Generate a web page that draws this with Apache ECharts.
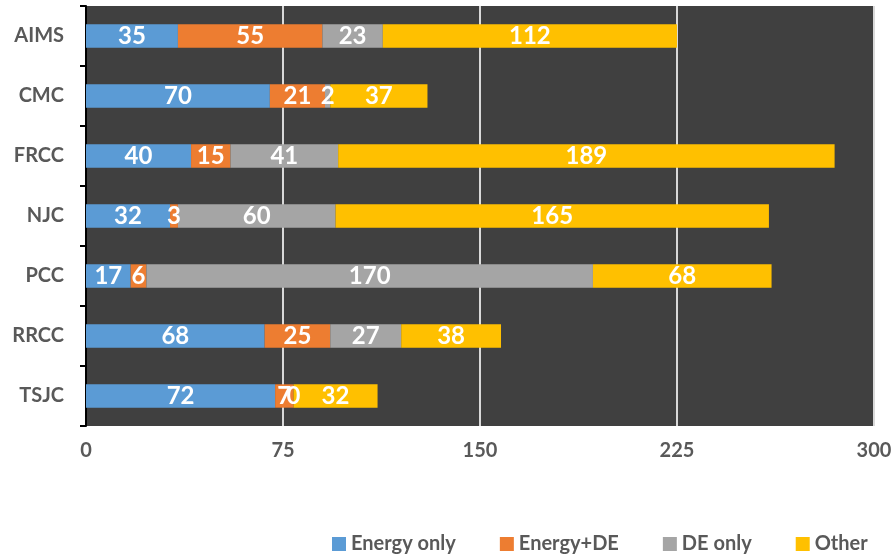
<!DOCTYPE html>
<html>
<head>
<meta charset="utf-8">
<script src="https://cdn.jsdelivr.net/npm/echarts@6/dist/echarts.min.js"></script>
<style>
  html, body { margin: 0; padding: 0; background: #fff; }
  #myChart { width: 896px; height: 557px; }
</style>
</head>
<body>
<div id="myChart"></div>
<script>
var categories = ["AIMS", "CMC", "FRCC", "NJC", "PCC", "RRCC", "TSJC"];
var energyOnly = [35, 70, 40, 32, 17, 68, 72];
var energyDE = [55, 21, 15, 3, 6, 25, 7];
var deOnly = [23, 2, 41, 60, 170, 27, 0];
var other = [112, 37, 189, 165, 68, 38, 32];
var xTicks = [0, 75, 150, 225, 300];

var chartDom = document.getElementById("myChart");
var myChart = echarts.init(chartDom);
var option;

var font = "Lato, 'Open Sans', sans-serif";

function makeSeries(name, data, color) {
  return {
    name: name,
    type: "bar",
    stack: "total",
    barWidth: "39%",
    data: data,
    itemStyle: { color: color },
    label: {
      show: true,
      position: "inside",
      color: "#fff",
      fontFamily: font,
      fontWeight: "bold",
      fontSize: 24,
    },
  };
}

option = {
  animation: false,
  textStyle: { fontFamily: font },
  grid: {
    left: 86,
    right: 22,
    top: 6,
    bottom: 131,
    show: true,
    backgroundColor: "#404040",
    borderWidth: 0,
  },
  legend: {
    left: 327,
    top: 529,
    itemWidth: 14,
    itemHeight: 14,
    itemGap: 44,
    icon: "rect",
    textStyle: {
      color: "#595959",
      fontFamily: font,
      fontWeight: "bold",
      fontSize: 20,
    },
  },
  xAxis: {
    type: "value",
    min: xTicks[0],
    max: xTicks[xTicks.length - 1],
    interval: 75,
    axisLine: { show: false },
    axisTick: { show: false },
    axisLabel: {
      color: "#595959",
      fontFamily: font,
      fontWeight: "bold",
      fontSize: 20,
      margin: 15,
    },
    splitLine: {
      lineStyle: { color: "#d9d9d9", width: 2 },
    },
  },
  yAxis: {
    type: "category",
    inverse: true,
    data: categories,
    axisLine: { show: true, lineStyle: { color: "#000", width: 2 } },
    axisTick: { show: true, length: 6, lineStyle: { color: "#000", width: 2 } },
    axisLabel: {
      color: "#595959",
      fontFamily: font,
      fontWeight: "bold",
      fontSize: 20,
      margin: 22,
    },
  },
  series: [
    makeSeries("Energy only", energyOnly, "#5B9BD5"),
    makeSeries("Energy+DE", energyDE, "#ED7D31"),
    makeSeries("DE only", deOnly, "#A5A5A5"),
    makeSeries("Other", other, "#FFC000"),
  ],
};

option && myChart.setOption(option);
</script>
</body>
</html>
